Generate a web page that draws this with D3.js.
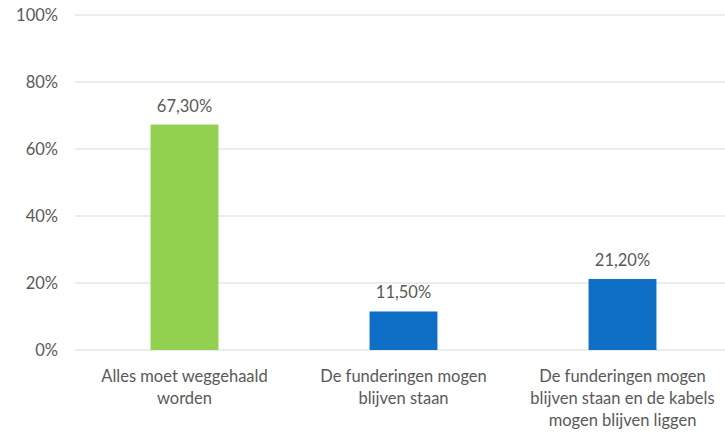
<!DOCTYPE html>
<html>
<head>
<meta charset="utf-8">
<script src="https://cdn.jsdelivr.net/npm/d3@7"></script>
<style>
  body { margin: 0; background: #fff; }
  svg text { font-family: Lato, "Open Sans", sans-serif; fill: #595959; }
</style>
</head>
<body>
<svg id="chart" width="725" height="432"></svg>
<script>
// categories, with the line breaks the picture shows
var categories = [
    ["Alles moet weggehaald", "worden"],
    ["De funderingen mogen", "blijven staan"],
    ["De funderingen mogen", "blijven staan en de kabels", "mogen blijven liggen"]
];
var values = [0.673, 0.115, 0.212];
var valueLabels = ["67,30%", "11,50%", "21,20%"];
var barColors = ["#92d050", "#0f6fc6", "#0f6fc6"];
var yTicks = [0, 0.2, 0.4, 0.6, 0.8, 1];

var svg = d3.select("#chart"),
    margin = {top: 15, left: 75, bottom: 82},
    plotRight = 732,
    height = +svg.attr("height") - margin.top - margin.bottom;

var x = d3.scaleBand()
    .domain(d3.range(categories.length))
    .range([margin.left, plotRight])
    .paddingInner(0.69)
    .paddingOuter(0.345);

var y = d3.scaleLinear().domain([0, 1]).range([margin.top + height, margin.top]);

// gridlines
svg.append("g").selectAll("line")
    .data(yTicks)
    .enter().append("line")
    .attr("x1", margin.left)
    .attr("x2", plotRight)
    .attr("y1", function (d) { return y(d); })
    .attr("y2", function (d) { return y(d); })
    .attr("stroke", "#d9d9d9")
    .attr("stroke-width", 1);

// y axis labels
var yAxis = d3.axisLeft(y)
    .tickValues(yTicks)
    .tickSize(0)
    .tickPadding(0)
    .tickFormat(function (d) { return Math.round(d * 100) + "%"; });

svg.append("g")
    .attr("transform", "translate(58,0)")
    .call(yAxis)
    .call(function (g) { g.select(".domain").remove(); })
    .selectAll("text")
    .style("font-family", "Lato, sans-serif")
    .style("font-size", "16.5px")
    .attr("fill", "#595959");

// bars
svg.append("g").selectAll("rect")
    .data(values)
    .enter().append("rect")
    .attr("x", function (d, i) { return x(i); })
    .attr("y", function (d) { return y(d); })
    .attr("width", x.bandwidth())
    .attr("height", function (d) { return y(0) - y(d); })
    .attr("fill", function (d, i) { return barColors[i]; });

// value labels
svg.append("g").selectAll("text")
    .data(values)
    .enter().append("text")
    .attr("x", function (d, i) { return x(i) + x.bandwidth() / 2; })
    .attr("y", function (d) { return y(d) - 13; })
    .attr("text-anchor", "middle")
    .style("font-size", "16.5px")
    .text(function (d, i) { return valueLabels[i]; });

// category labels
var cat = svg.append("g").selectAll("text")
    .data(categories)
    .enter().append("text")
    .attr("text-anchor", "middle")
    .style("font-size", "16.5px")
    .attr("x", function (d, i) { return x(i) + x.bandwidth() / 2; })
    .attr("y", 382);

cat.selectAll("tspan")
    .data(function (d) { return d; })
    .enter().append("tspan")
    .attr("x", function () { return d3.select(this.parentNode).attr("x"); })
    .attr("dy", function (d, i) { return i === 0 ? 0 : 22; })
    .text(function (d) { return d; });
</script>
</body>
</html>
